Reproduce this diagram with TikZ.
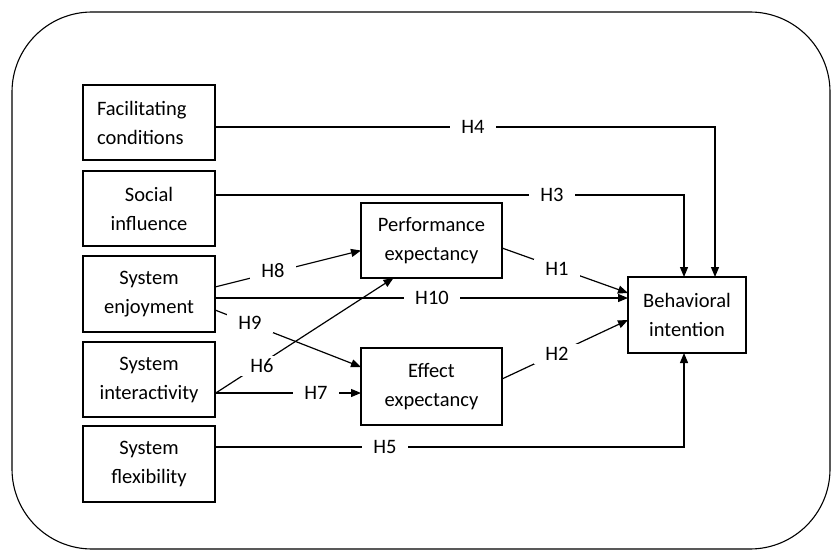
\documentclass[tikz,border=0pt]{standalone}
\usepackage{fontspec}
\setmainfont{Carlito}
\usetikzlibrary{arrows.meta}
\begin{document}
\begin{tikzpicture}[x=1pt,y=1pt,
  every node/.style={font=\fontsize{20.5}{29}\selectfont},
  box/.style={draw,line width=1.2pt,inner sep=0pt,outer sep=0pt,align=center},
  lbl/.style={fill=white,inner xsep=11pt,inner ysep=3pt},
  conn/.style={line width=1.2pt},
  arr/.style={conn,-{Triangle[length=10pt,width=8pt]}}]
\useasboundingbox (0,0) rectangle (832,550);
\draw[line width=1.1pt,rounded corners=80pt] (12,1) rectangle (830,538);
% boxes
\node[box,minimum width=132pt,minimum height=75pt,align=left,text width=104pt,inner xsep=14pt] (fc) at (149,427.5) {Facilitating\\conditions};
\node[box,minimum width=132pt,minimum height=75pt] (si) at (149,341.5) {Social\\influence};
\node[box,minimum width=132pt,minimum height=76pt] (se) at (149,256) {System\\enjoyment};
\node[box,minimum width=132pt,minimum height=75pt] (sint) at (149,170.5) {System\\interactivity};
\node[box,minimum width=132pt,minimum height=76pt] (sf) at (149,86) {System\\flexibility};
\node[box,minimum width=141pt,minimum height=75pt] (pe) at (431.5,309.5) {Performance\\expectancy};
\node[box,minimum width=141pt,minimum height=77pt] (ee) at (431.5,163.5) {Effect\\expectancy};
\node[box,minimum width=118pt,minimum height=76pt] (bi) at (687,235) {Behavioral\\intention};
% connectors
\draw[arr] ([yshift=-4.5pt]fc.east) -| ([xshift=28pt]bi.north);
\draw[arr] ([yshift=13.5pt]si.east) -| ([xshift=-3pt]bi.north);
\draw[arr] ([yshift=7pt]se.east) -- ([yshift=-10pt]pe.west);
\draw[arr] ([yshift=-4pt]se.east) -- ([yshift=17pt]bi.west);
\draw[arr] ([yshift=-16pt]se.east) -- ([yshift=19.5pt]ee.west);
\draw[arr] ([yshift=-14pt]sint.east) -- ([xshift=-38pt]pe.south);
\draw[arr] ([yshift=-13.5pt]sint.east) -- ([yshift=-6.5pt]ee.west);
\draw[arr] ([yshift=-7.5pt]pe.east) -- ([yshift=22pt]bi.west);
\draw[arr] ([yshift=7.5pt]ee.east) -- ([yshift=-5pt]bi.west);
\draw[arr] ([yshift=17pt]sf.east) -| ([xshift=-3pt]bi.south);
% labels
\node[lbl] (h4) at (473,423) {H4};
\node[lbl] (h3) at (552,355) {H3};
\node[lbl] (h8) at (273,279) {H8};
\node[lbl] (h10) at (432,252) {H10};
\node[lbl] (h9) at (250,227) {H9};
\node[lbl] (h6) at (262,184) {H6};
\node[lbl] (h7) at (316,157) {H7};
\node[lbl] (h1) at (557,281) {H1};
\node[lbl] (h2) at (557,196) {H2};
\node[lbl] (h5) at (385,103) {H5};
\end{tikzpicture}
\end{document}
